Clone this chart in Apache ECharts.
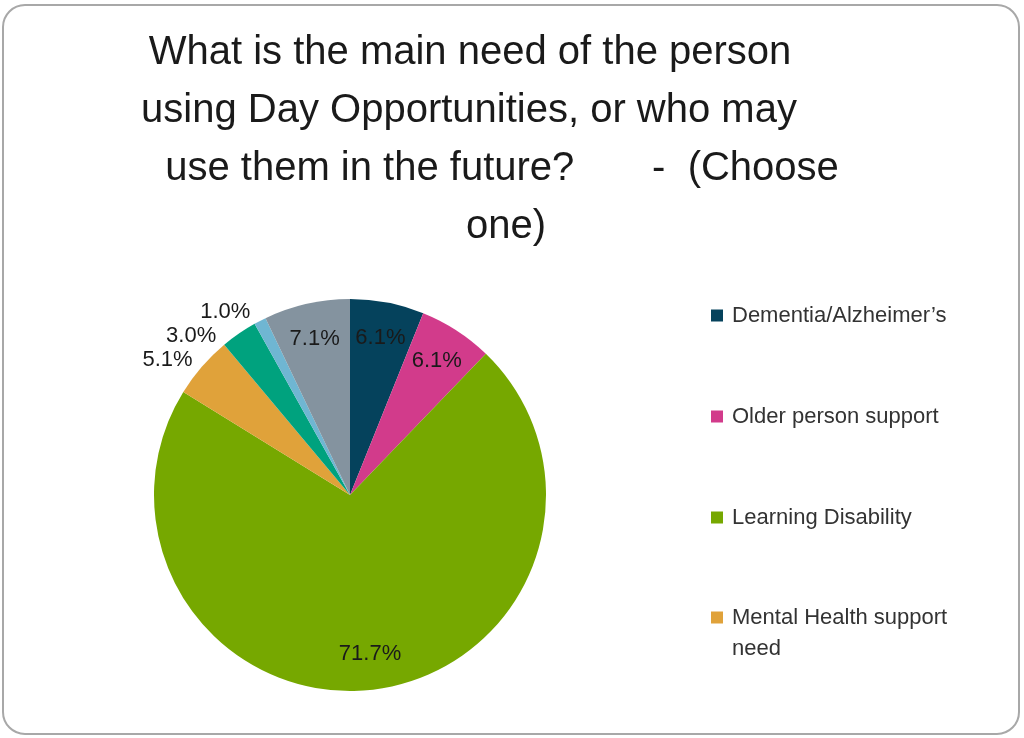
<!DOCTYPE html>
<html>
<head>
<meta charset="utf-8">
<script src="https://cdn.jsdelivr.net/npm/echarts@6/dist/echarts.min.js"></script>
<style>
  html, body { margin: 0; padding: 0; background: #ffffff; }
  #chart { width: 1024px; height: 738px; }
</style>
</head>
<body>
<div id="chart"></div>
<script>
// Main need of people using (or likely to use) Day Opportunities, share of responses (%)
const titleLines = [
  'What is the main need of the person',
  'using Day Opportunities, or who may',
  'use them in the future?       -  (Choose',
  'one)'
];
const categories = [
  'Dementia/Alzheimer’s',
  'Older person support',
  'Learning Disability',
  'Mental Health support need',
  'Physical disability',
  'Sensory impairment',
  'Other'
];
const shares = [6.1, 6.1, 71.7, 5.1, 3.0, 1.0, 7.1];
const palette = ['#05425c', '#d23b8b', '#76a800', '#e0a23a', '#00a27e', '#6fb6d2', '#84939f'];

const FONT = '"Liberation Sans", Arial, sans-serif';
const TEXT = '#1a1a1a';
const PIE_R = 196;
const PIE_CENTER = [350, 495];

const fmtPct = p => p.value.toFixed(1) + '%';

// small slices get their label outside the rim, the rest inside
const isSmall = v => v < 6;

const sliceData = categories.map((name, i) => ({
  name,
  value: shares[i],
  itemStyle: { color: palette[i] },
  label: { show: isSmall(shares[i]) }
}));

// transparent twin of the pie used only to carry the inside labels further out
const labelData = categories.map((name, i) => ({
  name,
  value: shares[i],
  label: { show: !isSmall(shares[i]) }
}));

const legendText = { fontFamily: FONT, fontSize: 22, color: '#333333', lineHeight: 31, padding: [0, 0, 0, 4] };

const chart = echarts.init(document.getElementById('chart'), null, { renderer: 'canvas' });

chart.setOption({
  backgroundColor: '#ffffff',
  animation: false,
  title: titleLines.map((line, i) => ({
    text: line,
    left: [470, 469, 502, 506][i],
    top: 30 + i * 58,
    padding: 0,
    textAlign: 'center',
    textStyle: { fontFamily: FONT, fontSize: 40, fontWeight: 'normal', color: TEXT, lineHeight: 45 }
  })),
  legend: [
    {
      orient: 'vertical',
      left: 711,
      top: 300,
      padding: 0,
      itemWidth: 12,
      itemHeight: 12,
      itemGap: 70,
      icon: 'rect',
      selectedMode: false,
      data: categories.slice(0, 3),
      textStyle: legendText
    },
    {
      orient: 'vertical',
      left: 711,
      top: 571,
      padding: 0,
      itemWidth: 12,
      itemHeight: 12,
      icon: 'rect',
      selectedMode: false,
      data: categories.slice(3, 4),
      // blank first line keeps the icon level with the first line of the wrapped name
      formatter: name => ' \n' + name.replace(' need', '\nneed'),
      textStyle: legendText
    }
  ],
  graphic: [
    {
      type: 'rect',
      shape: { x: 3, y: 5, width: 1016, height: 729, r: 22 },
      style: { fill: 'none', stroke: '#a8a8a8', lineWidth: 2 },
      silent: true,
      z: 100
    }
  ],
  series: [
    {
      type: 'pie',
      center: PIE_CENTER,
      radius: PIE_R,
      startAngle: 90,
      clockwise: true,
      avoidLabelOverlap: true,
      silent: true,
      itemStyle: { borderWidth: 0 },
      label: {
        position: 'outside',
        formatter: fmtPct,
        fontFamily: FONT,
        fontSize: 22,
        color: TEXT
      },
      labelLine: { show: false, length: 10, length2: 0 },
      data: sliceData
    },
    {
      type: 'pie',
      center: PIE_CENTER,
      radius: [0, PIE_R * 1.6],
      startAngle: 90,
      clockwise: true,
      avoidLabelOverlap: false,
      silent: true,
      itemStyle: { color: 'rgba(0,0,0,0)' },
      label: {
        position: 'inside',
        formatter: fmtPct,
        fontFamily: FONT,
        fontSize: 22,
        color: TEXT
      },
      labelLine: { show: false },
      data: labelData
    }
  ]
});
</script>
</body>
</html>
